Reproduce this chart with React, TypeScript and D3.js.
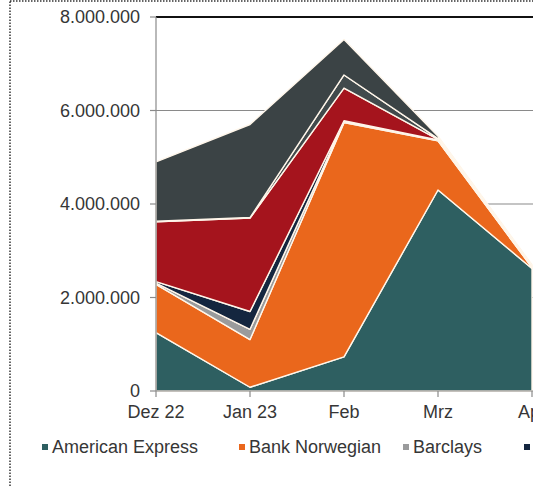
import React from "react";
import * as d3 from "d3";

const categories = ["Dez 22", "Jan 23", "Feb", "Mrz", "Apr"];
const seriesNames = ["American Express", "Bank Norwegian", "Barclays", "Consors Finanz", "DKB", "Hanseatic Bank", "Sonstige"];
const amex = [1250000, 80000, 730000, 4300000, 2620000];
const bankNorwegian = [1030000, 1020000, 5010000, 1050000, 20000];
const barclays = [30000, 220000, 20000, 10000, 10000];
const consors = [30000, 380000, 20000, 10000, 10000];
const dkb = [1280000, 2000000, 700000, 10000, 10000];
const hanseatic = [10000, 10000, 280000, 20000, 10000];
const sonstige = [1270000, 1990000, 760000, 50000, 20000];
const yTicks = [0, 2000000, 4000000, 6000000, 8000000];
const colors = ["#2e5f61", "#ea671c", "#9a9b9c", "#14263f", "#a5141d", "#414a4c", "#3b4345"];

const W = 533;
const H = 487;

export default function App() {
  const seriesValues = [amex, bankNorwegian, barclays, consors, dkb, hanseatic, sonstige];
  const table = categories.map((c, i) => {
    const row: any = { cat: c };
    seriesNames.forEach((n, k) => (row[n] = seriesValues[k][i]));
    return row;
  });
  const stacked = d3.stack<any>().keys(seriesNames)(table);

  const x = d3.scalePoint<string>().domain(categories).range([156, 532]);
  const y = d3.scaleLinear().domain([0, 8000000]).range([391, 17]);
  const area = d3
    .area<any>()
    .x((d) => x(d.data.cat) as number)
    .y0((d) => y(d[0]))
    .y1((d) => y(d[1]));

  const fmt = (v: number) => d3.format(",")(v).replace(/,/g, ".");
  const font = "'Liberation Sans', Arial, sans-serif";
  const textColor = "#363636";

  const legendX = [42, 239, 403, 524];

  return (
    <svg width={W} height={H} style={{ position: "absolute", left: 0, top: 0, background: "#fff" }}>
      <rect x={10} y={1} width={W + 20} height={H + 20} fill="#fff" stroke="#333" strokeWidth={1.5} strokeDasharray="1.5 1.5" />
      {yTicks.slice(1, 4).map((t) => (
        <line key={t} x1={156} x2={W} y1={y(t)} y2={y(t)} stroke="#8a8a8a" strokeWidth={1.2} />
      ))}
      <line x1={156} x2={W} y1={y(8000000)} y2={y(8000000)} stroke="#111" strokeWidth={2} />
      {stacked.map((s, k) => (
        <path key={s.key} d={area(s as any) || ""} fill={colors[k]} stroke="#fff6ea" strokeWidth={1.4} strokeLinejoin="round" />
      ))}
      <line x1={156} x2={156} y1={17} y2={391} stroke="#8a8a8a" strokeWidth={1.2} />
      <line x1={156} x2={W} y1={391} y2={391} stroke="#8a8a8a" strokeWidth={1.2} />
      {yTicks.map((t) => (
        <g key={t}>
          <line x1={150} x2={156} y1={y(t)} y2={y(t)} stroke="#8a8a8a" strokeWidth={1.2} />
          <text x={140} y={y(t)} dy="0.36em" textAnchor="end" fontFamily={font} fontSize={18} fill={textColor}>
            {fmt(t)}
          </text>
        </g>
      ))}
      {categories.map((c) => (
        <g key={c}>
          <line x1={x(c)} x2={x(c)} y1={391} y2={397} stroke="#8a8a8a" strokeWidth={1.2} />
          <text x={x(c)} y={418} textAnchor="middle" fontFamily={font} fontSize={18} fill={textColor}>
            {c}
          </text>
        </g>
      ))}
      {legendX.map((lx, k) => (
        <g key={seriesNames[k]}>
          <rect x={lx} y={444} width={6} height={6} fill={colors[k]} />
          <text x={lx + 10} y={453} fontFamily={font} fontSize={18} fill={textColor}>
            {seriesNames[k]}
          </text>
        </g>
      ))}
    </svg>
  );
}
